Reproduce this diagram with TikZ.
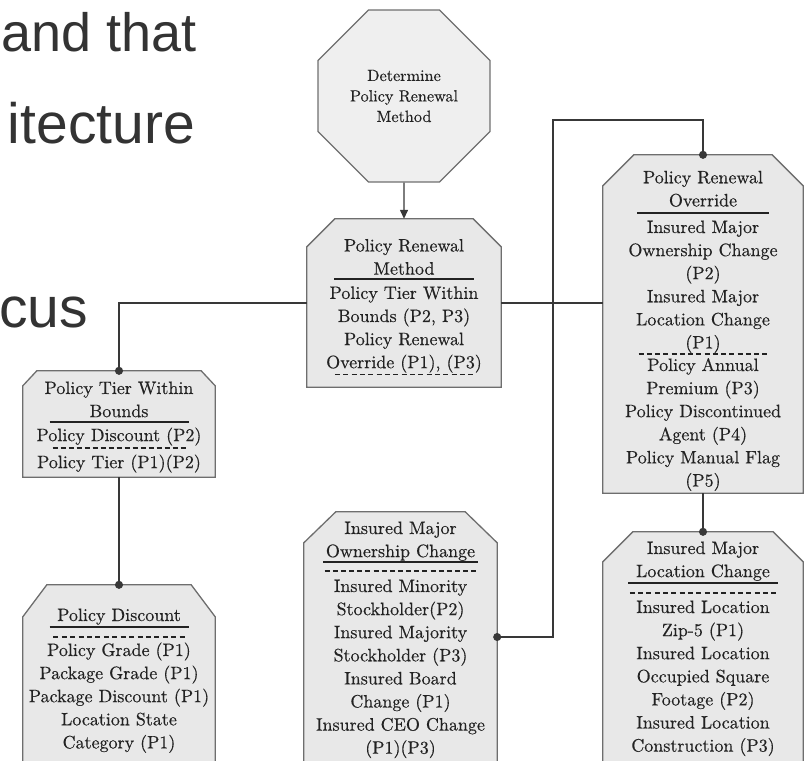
\documentclass[tikz,border=0pt]{standalone}
\usepackage{fontspec}
\newfontfamily\slidefont{Liberation Sans}
\newfontfamily\boxfont{lmroman10-regular.otf}[FakeBold=0.35]
\usetikzlibrary{shapes,arrows.meta,positioning}
\definecolor{boxgray}{HTML}{E8E8E8}
\definecolor{octgray}{HTML}{EFEFEF}
\definecolor{edgegray}{HTML}{6E6E6E}
\definecolor{wiregray}{HTML}{383838}
\definecolor{slidegray}{HTML}{333333}
\definecolor{inkgray}{HTML}{222222}
\tikzstyle{tagbox}=[rectangle,draw=none,inner sep=0pt]
\tikzstyle{frame}=[draw=edgegray,fill=boxgray,line width=1.3pt]
\tikzstyle{octbox}=[regular polygon,regular polygon sides=8,draw=edgegray,fill=octgray,line width=1.3pt,minimum size=186pt,inner sep=0pt,align=center,text=inkgray,font=\boxfont\fontsize{16.2}{20.5}\selectfont]
\tikzstyle{boxtext}=[anchor=north,inner sep=0pt,align=center,text=inkgray,font=\boxfont\fontsize{18}{23.1}\selectfont]
\tikzstyle{slidetext}=[inner sep=0pt,text=slidegray,font=\slidefont\fontsize{57}{60}\selectfont]
\tikzstyle{wire}=[draw=wiregray,line width=1.4pt]
\tikzstyle{feed}=[wire,-{Triangle[length=9pt,width=8pt]}]
\tikzstyle{link}=[wire,-{Circle[length=8pt]},shorten >=-4pt]
\tikzstyle{dlink}=[wire,{Circle[length=8pt]}-{Circle[length=8pt]},shorten >=-4pt,shorten <=-4pt]
\newcommand{\fullrule}[1]{\rule{#1}{1.3pt}}
\newcommand{\dashrule}[1]{\hbox to #1{\xleaders\hbox to 8pt{\hss\rule{5pt}{1.2pt}\hss}\hfill}}

\begin{document}
\begin{tikzpicture}[x=1pt,y=-1pt]
  \useasboundingbox (0,0) rectangle (805,760);
  \clip (0,0) rectangle (805,760);

  % slide text behind the chart
  \node[slidetext,anchor=base west,font=\slidefont\fontsize{54}{60}\selectfont] (slide-a) at (1,52) {and that};
  \node[slidetext,anchor=base east] (slide-b) at (195,143) {itecture};
  \node[slidetext,anchor=base east] (slide-c) at (88,327) {cus};

  \node[octbox] (decide) at (404,96) {Determine\\Policy Renewal\\Method};

  \foreach \name/\x/\y/\w/\h in {renew/404/303/194/168, override/703/324/200/338, tier/119/424/192/106, discount/119/688/192/206, owner/400.5/637/193/250, location/703/660/200/256}
    \node[tagbox,minimum width=\w pt,minimum height=\h pt] (B-\name) at (\x,\y) {};

  \foreach \name/\cx/\cy in {renew/28/28, override/31/31, tier/14/15, discount/24/32, owner/32/31, location/30/30}
    \draw[frame] (B-\name.south west) -- ([yshift=-\cy pt]B-\name.north west) -- ([xshift=\cx pt]B-\name.north west) -- ([xshift=-\cx pt]B-\name.north east) -- ([yshift=-\cy pt]B-\name.north east) -- (B-\name.south east) -- cycle;

  \node[boxtext] (T-renew) at ([yshift=-20pt]B-renew.north) {Policy Renewal\\Method\\[-18.1pt]\fullrule{140pt}\\[-3.8pt]Policy Tier Within\\Bounds (P2, P3)\\Policy Renewal\\Override (P1), (P3)\\[-16.4pt]\dashrule{142pt}};
  \node[boxtext] (T-override) at ([yshift=-15.8pt]B-override.north) {Policy Renewal\\Override\\[-15.9pt]\fullrule{132pt}\\[-3.7pt]Insured Major\\Ownership Change\\(P2)\\Insured Major\\Location Change\\(P1)\\[-17pt]\dashrule{132pt}\\[-6.7pt]Policy Annual\\Premium (P3)\\Policy Discontinued\\Agent (P4)\\Policy Manual Flag\\(P5)};
  \node[boxtext] (T-tier) at ([yshift=-10.5pt]B-tier.north) {Policy Tier Within\\Bounds\\[-17.6pt]\fullrule{139pt}\\[-4.6pt]Policy Discount (P2)\\[-15.5pt]\dashrule{136pt}\\[-3.7pt]Policy Tier (P1)(P2)};
  \node[boxtext] (T-discount) at ([yshift=-23.5pt]B-discount.north) {Policy Discount\\[-16.5pt]\fullrule{139pt}\\[-13.1pt]\dashrule{135pt}\\[-4.7pt]Policy Grade (P1)\\Package Grade (P1)\\Package Discount (P1)\\Location State\\Category (P1)};
  \node[boxtext] (T-owner) at ([yshift=-9.5pt]B-owner.north) {Insured Major\\Ownership Change\\[-17.6pt]\fullrule{155pt}\\[-14.1pt]\dashrule{155pt}\\[-2.7pt]Insured Minority\\Stockholder(P2)\\Insured Majority\\Stockholder (P3)\\Insured Board\\Change (P1)\\Insured CEO Change\\(P1)(P3)};
  \node[boxtext] (T-location) at ([yshift=-9.5pt]B-location.north) {Insured Major\\Location Change\\[-16.6pt]\fullrule{150pt}\\[-13.1pt]\dashrule{150pt}\\[-3.7pt]Insured Location\\Zip-5 (P1)\\Insured Location\\Occupied Square\\Footage (P2)\\Insured Location\\Construction (P3)};

  \draw[feed] (decide.south) -- (B-renew.north);
  \draw[link] (B-renew.west) -| (B-tier.north);
  \draw[link] (B-tier.south) -- (B-discount.north);
  \draw[wire] (B-renew.east) -- (B-renew.east -| B-override.west);
  \coordinate (bus) at (553,120);
  \draw[dlink] (B-override.north) |- (bus) |- (B-owner.east);
  \draw[link] (B-override.south) -- (B-location.north);

\end{tikzpicture}
\end{document}
